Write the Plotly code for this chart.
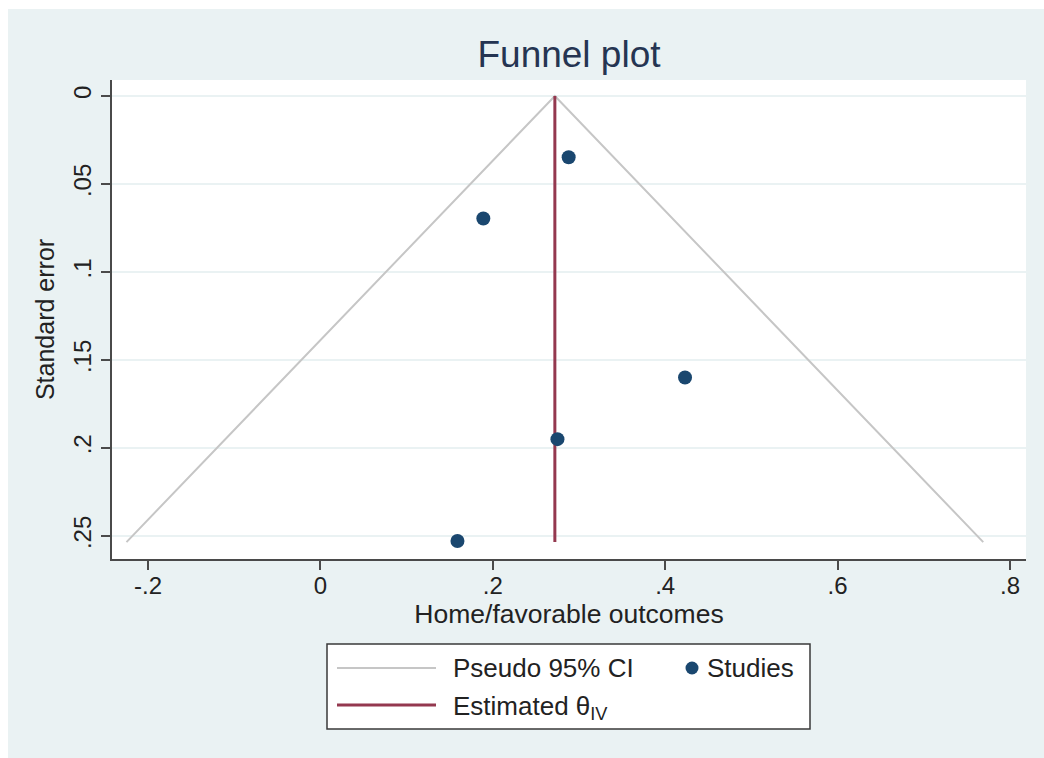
import plotly.graph_objects as go

# ---- data ----
study_effect = [0.288, 0.189, 0.423, 0.275, 0.159]
study_se = [0.0348, 0.0696, 0.160, 0.195, 0.2529]

theta_iv = 0.272
ci_x = [-0.225, theta_iv, 0.769]      # pseudo 95% CI limits at max se / apex
ci_se = [0.2535, 0.0, 0.2535]
est_x = [theta_iv, theta_iv]
est_se = [0.0, 0.2535]

x_ticks = [-0.2, 0.0, 0.2, 0.4, 0.6, 0.8]
x_ticklabels = ["-.2", "0", ".2", ".4", ".6", ".8"]
y_ticks = [0.0, 0.05, 0.10, 0.15, 0.20, 0.25]
y_ticklabels = ["0", ".05", ".1", ".15", ".2", ".25"]

BG = "#eaf2f3"
NAVY = "#1a476f"
MAROON = "#94384f"
CIGRAY = "#c6c6c6"
AXIS = "#4a4a4a"
FONT = "Liberation Sans, Arial, sans-serif"
TXT = "#222222"

fig = go.Figure()
fig.add_trace(go.Scatter(x=ci_x, y=ci_se, mode="lines",
                         line=dict(color=CIGRAY, width=2),
                         name="Pseudo 95% CI", showlegend=False, hoverinfo="skip"))
fig.add_trace(go.Scatter(x=est_x, y=est_se, mode="lines",
                         line=dict(color=MAROON, width=3),
                         name="Estimated θ<sub>IV</sub>", showlegend=False))
fig.add_trace(go.Scatter(x=study_effect, y=study_se, mode="markers",
                         marker=dict(color=NAVY, size=14),
                         name="Studies", showlegend=False))

L, R, T, B = 112, 18, 80, 199
W, H = 1044, 758
pw, ph = W - L - R, H - T - B


def px(xp):
    return (xp - L) / pw


def py(yp):
    return (H - B - yp) / ph


shapes = [
    # white outer border strips (left/top)
    dict(type="rect", xref="paper", yref="paper", x0=px(-20), x1=px(8), y0=py(800), y1=py(-20),
         fillcolor="white", line=dict(width=0), layer="below"),
    dict(type="rect", xref="paper", yref="paper", x0=px(-20), x1=px(1100), y0=py(9), y1=py(-20),
         fillcolor="white", line=dict(width=0), layer="below"),
    # legend box
    dict(type="rect", xref="paper", yref="paper", x0=px(327), x1=px(810), y0=py(729), y1=py(644),
         fillcolor="white", line=dict(color="#3a3a3a", width=1.5)),
    dict(type="line", xref="paper", yref="paper", x0=px(337), x1=px(436), y0=py(668), y1=py(668),
         line=dict(color=CIGRAY, width=2)),
    dict(type="line", xref="paper", yref="paper", x0=px(337), x1=px(436), y0=py(705), y1=py(705),
         line=dict(color=MAROON, width=3)),
    dict(type="circle", xref="paper", yref="paper", xsizemode="pixel", ysizemode="pixel",
         xanchor=px(692), yanchor=py(668), x0=-6.5, x1=6.5, y0=-6.5, y1=6.5,
         fillcolor=NAVY, line=dict(width=0)),
]

annotations = [
    dict(text="Pseudo 95% CI", xref="paper", yref="paper", x=px(451), y=py(668),
         xanchor="left", yanchor="middle", showarrow=False,
         font=dict(family=FONT, size=26, color=TXT)),
    dict(text="Studies", xref="paper", yref="paper", x=px(705), y=py(668),
         xanchor="left", yanchor="middle", showarrow=False,
         font=dict(family=FONT, size=26, color=TXT)),
    dict(text="Estimated θ<sub>IV</sub>", xref="paper", yref="paper", x=px(451), y=py(707),
         xanchor="left", yanchor="middle", showarrow=False,
         font=dict(family=FONT, size=26, color=TXT)),
]

fig.update_layout(
    width=W, height=H,
    margin=dict(l=L, r=R, t=T, b=B, pad=0),
    paper_bgcolor=BG, plot_bgcolor="white",
    font=dict(family=FONT, color=TXT),
    title=dict(text="Funnel plot", x=0.5, xref="paper", xanchor="center",
               y=1 - 54 / H, yanchor="middle",
               font=dict(family=FONT, size=37, color="#253552")),
    showlegend=False,
    shapes=shapes,
    annotations=annotations,
    xaxis=dict(range=[-0.2418, 0.8186], tickvals=x_ticks, ticktext=x_ticklabels,
               showgrid=False, zeroline=False, showline=True, linecolor=AXIS, linewidth=2,
               ticks="outside", ticklen=9, tickwidth=2, tickcolor=AXIS,
               ticklabelstandoff=-5,
               tickfont=dict(size=24, color=TXT),
               title=dict(text="Home/favorable outcomes", font=dict(size=26.5, color=TXT), standoff=5)),
    yaxis=dict(range=[0.2631, -0.0091], tickvals=y_ticks, ticktext=y_ticklabels,
               showgrid=True, gridcolor=BG, gridwidth=1.5, zeroline=False,
               showline=True, linecolor=AXIS, linewidth=2,
               ticks="outside", ticklen=9, tickwidth=2, tickcolor=AXIS, tickangle=-90,
               tickfont=dict(size=24, color=TXT),
               title=dict(text="Standard error", font=dict(size=25, color=TXT), standoff=8)),
)

fig.write_html("out.html")
